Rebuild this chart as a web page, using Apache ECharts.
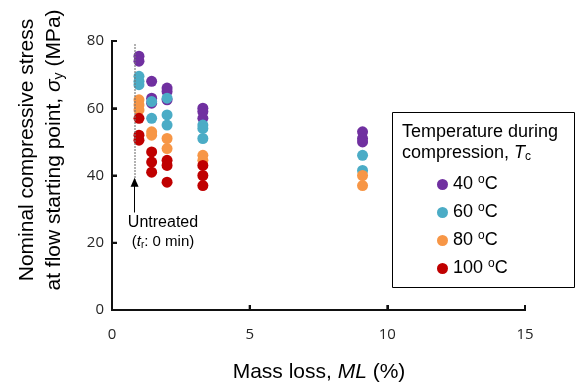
<!DOCTYPE html>
<html>
  <head>
    <meta charset="utf-8" />
    <title>Compressive stress vs mass loss</title>
    <script src="https://cdn.jsdelivr.net/npm/echarts@6/dist/echarts.min.js"></script>
    <style>
      html, body { margin: 0; padding: 0; background: #fff; }
      #main { width: 577px; height: 387px; }
    </style>
  </head>
  <body>
    <div id="main"></div>
    <script type="text/javascript">
      // temperatures during compression (legend)
      var temps = ["40", "60", "80", "100"];
      var colors = ["#7030A0", "#4BACC6", "#F79646", "#C00000"];

      // axis ticks
      var xTicks = [0, 5, 10, 15];
      var yTicks = [0, 20, 40, 60, 80];

      // [mass loss %, stress MPa]
      var points40 = [
        [0.98, 75.5], [0.98, 74], [1.44, 68], [1.44, 63], [1.44, 61.5],
        [2.0, 66], [2.0, 65], [2.0, 62.5], [3.3, 60], [3.3, 59], [3.3, 57],
        [9.1, 53], [9.1, 51], [9.1, 50]
      ];
      var points60 = [
        [0.98, 69.5], [0.98, 68], [0.98, 67], [1.44, 62], [1.44, 57],
        [2.0, 63], [2.0, 58], [2.0, 55], [3.3, 55], [3.3, 54], [3.3, 51],
        [9.1, 46], [9.1, 41.5]
      ];
      var points80 = [
        [0.98, 62.5], [0.98, 61], [0.98, 59.5], [1.44, 53], [1.44, 52],
        [2.0, 51], [2.0, 48], [3.3, 46], [3.3, 44.5], [9.1, 40], [9.1, 37]
      ];
      var points100 = [
        [0.98, 57], [0.98, 52], [0.98, 50.5], [1.44, 47], [1.44, 44], [1.44, 41],
        [2.0, 44.5], [2.0, 43], [2.0, 38], [3.3, 43], [3.3, 40], [3.3, 37]
      ];
      var allPoints = [points40, points60, points80, points100];

      // untreated marker (dotted guide + arrow)
      var untreatedX = 0.82;
      var guideY = [79, 38.5];
      var arrowY = [29, 38];

      var xMax = xTicks[xTicks.length - 1];
      var yMax = yTicks[yTicks.length - 1];

      var chart = echarts.init(document.getElementById("main"));

      // axis frame + inward ticks, drawn by a custom series through the scales
      var frameSeries = {
        type: "custom",
        silent: true,
        clip: false,
        data: [0],
        renderItem: function (params, api) {
          var o = api.coord([0, 0]);
          var xe = api.coord([xMax, 0]);
          var ye = api.coord([0, yMax]);
          var st = { stroke: "#111", lineWidth: 2, fill: null };
          var kids = [
            { type: "polyline", shape: { points: [[ye[0], ye[1] - 1], o, [xe[0] + 1, xe[1]]] }, style: st }
          ];
          xTicks.forEach(function (v) {
            var p = api.coord([v, 0]);
            kids.push({ type: "line", shape: { x1: p[0], y1: p[1], x2: p[0], y2: p[1] - 5 }, style: st });
          });
          yTicks.forEach(function (v) {
            var p = api.coord([0, v]);
            kids.push({ type: "line", shape: { x1: p[0], y1: p[1], x2: p[0] + 5, y2: p[1] }, style: st });
          });
          return { type: "group", children: kids };
        }
      };

      var series = [frameSeries].concat(temps.map(function (t, i) {
        return {
          name: t,
          type: "scatter",
          symbol: "circle",
          symbolSize: 11,
          itemStyle: { color: colors[i], opacity: 1 },
          data: allPoints[i]
        };
      }));

      series[1].markLine = {
        silent: true,
        symbol: "none",
        label: { show: false },
        data: [
          [
            { coord: [untreatedX, guideY[0]], symbol: "none", lineStyle: { type: [1.5, 1.5], color: "#777", width: 1.5 } },
            { coord: [untreatedX, guideY[1]], symbol: "none" }
          ],
          [
            { coord: [untreatedX, arrowY[0]], symbol: "none", lineStyle: { type: "solid", color: "#000", width: 1 } },
            { coord: [untreatedX, arrowY[1]], symbol: "triangle", symbolSize: [8, 9] }
          ]
        ]
      };

      var richSans = "Liberation Sans";

      var option = {
        animation: false,
        grid: { left: 112, right: 52, top: 41, bottom: 77 },
        xAxis: {
          type: "value",
          min: 0,
          max: xMax,
          interval: 5,
          splitLine: { show: false },
          axisLine: { show: true, onZero: false, lineStyle: { color: "#111", width: 2 } },
          axisTick: { show: true, inside: true, length: 5, lineStyle: { color: "#111", width: 2 } },
          axisLabel: { margin: 17, fontSize: 15, color: "#262626", fontFamily: "Open Sans" }
        },
        yAxis: {
          type: "value",
          min: 0,
          max: yMax,
          interval: 20,
          splitLine: { show: false },
          axisLine: { show: true, onZero: false, lineStyle: { color: "#111", width: 2 } },
          axisTick: { show: true, inside: true, length: 5, lineStyle: { color: "#111", width: 2 } },
          axisLabel: { margin: 8, fontSize: 15, color: "#262626", fontFamily: "Open Sans" }
        },
        legend: {
          data: temps,
          orient: "vertical",
          left: 432,
          top: 169,
          icon: "circle",
          itemWidth: 11,
          itemHeight: 11,
          itemGap: 8.5,
          selectedMode: false,
          formatter: function (name) {
            return "{n|" + name + " }{s|o}{n|C}";
          },
          textStyle: {
            color: "#000",
            rich: {
              n: { fontSize: 18, lineHeight: 20, color: "#000", fontFamily: richSans },
              s: { fontSize: 12, padding: [0, 0, 9, 0], color: "#000", fontFamily: richSans }
            }
          }
        },
        graphic: [
          {
            type: "rect",
            shape: { x: 392.5, y: 112.5, width: 182, height: 175 },
            style: { fill: "none", stroke: "#000", lineWidth: 1 },
            silent: true
          },
          {
            type: "text",
            left: 402,
            top: 123,
            style: {
              text: "{n|Temperature during}\n{n|compression, }{i|T}{b|c}",
              fill: "#000",
              rich: {
                n: { fontSize: 18, lineHeight: 21, fontFamily: richSans },
                i: { fontSize: 18, lineHeight: 21, fontStyle: "italic", fontFamily: richSans },
                b: { fontSize: 12, padding: [8, 0, 0, 0], fontFamily: richSans }
              }
            }
          },
          {
            type: "text",
            x: 41,
            y: 150,
            rotation: Math.PI / 2,
            style: {
              text: "{n|Nominal compressive stress}\n{n|at flow starting point, }{i|σ}{b|y}{n| (MPa)}",
              fill: "#000",
              align: "center",
              verticalAlign: "middle",
              rich: {
                n: { fontSize: 21, lineHeight: 27, fontFamily: richSans },
                i: { fontSize: 21, lineHeight: 27, fontStyle: "italic", fontFamily: richSans },
                b: { fontSize: 14, padding: [9, 0, 0, 0], fontFamily: richSans }
              }
            }
          },
          {
            type: "text",
            x: 319,
            y: 372,
            style: {
              text: "{n|Mass loss, }{i|ML}{n| (%)}",
              fill: "#000",
              align: "center",
              verticalAlign: "middle",
              rich: {
                n: { fontSize: 21, fontFamily: richSans },
                i: { fontSize: 21, fontStyle: "italic", fontFamily: richSans }
              }
            }
          },
          {
            type: "text",
            x: 163,
            y: 223,
            style: {
              text: "Untreated",
              fill: "#000",
              align: "center",
              verticalAlign: "middle",
              fontSize: 16,
              fontFamily: richSans
            }
          },
          {
            type: "text",
            x: 163,
            y: 242,
            style: {
              text: "{n|(}{i|t}{b|r}{n|: 0 min)}",
              fill: "#000",
              align: "center",
              verticalAlign: "middle",
              rich: {
                n: { fontSize: 15, fontFamily: richSans },
                i: { fontSize: 15, fontStyle: "italic", fontFamily: richSans },
                b: { fontSize: 10, padding: [6, 0, 0, 0], fontFamily: richSans }
              }
            }
          }
        ],
        series: series
      };

      chart.setOption(option);
    </script>
  </body>
</html>
